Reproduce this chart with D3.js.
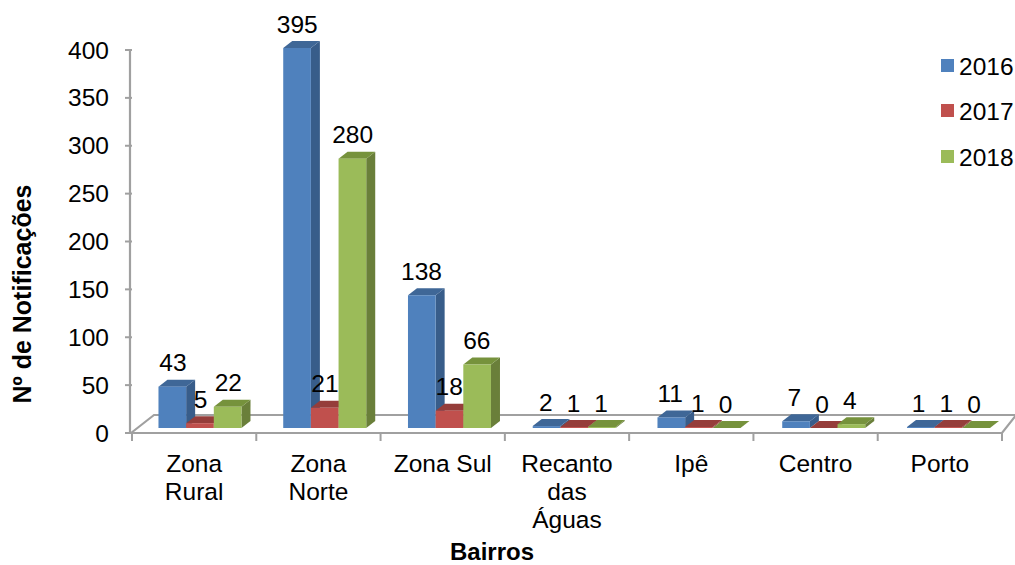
<!DOCTYPE html>
<html>
<head>
<meta charset="utf-8">
<script src="https://cdn.jsdelivr.net/npm/d3@7"></script>
<style>
  html, body { margin: 0; padding: 0; background: #fff; }
  svg { display: block; }
  text { font-family: "Liberation Sans", Arial, sans-serif; fill: #000; }
</style>
</head>
<body>
<div id="chart"></div>
<script>
const categories = [["Zona", "Rural"], ["Zona", "Norte"], ["Zona Sul"], ["Recanto", "das", "Águas"], ["Ipê"], ["Centro"], ["Porto"]];
const seriesNames = ["2016", "2017", "2018"];
const values2016 = [43, 395, 138, 2, 11, 7, 1];
const values2017 = [5, 21, 18, 1, 1, 0, 1];
const values2018 = [22, 280, 66, 1, 0, 4, 0];
const axisTicks = [0, 50, 100, 150, 200, 250, 300, 350, 400];
const faceColors = ["#4f81bd", "#c0504d", "#9bbb59"];
const topColors = ["#3f6797", "#953d3a", "#76923c"];
const sideColors = ["#385d8a", "#8c3836", "#6a7f3a"];

const width = 1015, height = 565;
const depthX = 9, depthY = -7;
const gridColor = "#a0a0a0";
const fontSize = 24.5;

const svg = d3.select("#chart").append("svg").attr("width", width).attr("height", height);
const seriesValues = [values2016, values2017, values2018];
const catIndex = categories.map((_, i) => i);

// The axis sits on the front edge of the floor; bars stand slightly behind it.
const axisX = d3.scaleBand().domain(catIndex).range([132, 1002]);
const axisY = d3.scaleLinear().domain([0, 400]).range([433, 50]);
const barX = d3.scaleBand().domain(catIndex).range([137.6, 1010.85]);
const barInner = d3.scaleBand().domain(d3.range(3)).range([-41.5, 41.5]);
const barY = d3.scaleLinear().domain([0, 400]).range([428, 43.2]);

// Floor of the 3D plot
const floorY = axisY(0), backY = 415;
const grid = svg.append("g").attr("fill", "none").attr("stroke", gridColor).attr("stroke-width", 2.2);
grid.append("path").attr("d", `M${axisX.range()[0]},${floorY}L${axisX.range()[1]},${floorY}L${width + 2},${backY - 1}`);
grid.append("path").attr("d", `M${axisX.range()[0] - 1},${floorY}L154,${backY}L${width},${backY}`);

// Value axis
const yAxis = svg.append("g");
yAxis.append("line").attr("x1", 130).attr("x2", 130)
  .attr("y1", axisY(400)).attr("y2", floorY)
  .attr("stroke", gridColor).attr("stroke-width", 2.2);
const yTicks = yAxis.selectAll("g").data(axisTicks).join("g")
  .attr("transform", d => `translate(0,${axisY(d)})`);
yTicks.append("line").attr("x1", 125).attr("x2", 132)
  .attr("stroke", gridColor).attr("stroke-width", 2);
yTicks.append("text").attr("x", 109).attr("y", 0).attr("dy", "0.35em")
  .attr("text-anchor", "end").attr("font-size", fontSize).text(d => d);

// Category ticks and wrapped labels
const tickPositions = [...catIndex.map(i => axisX(i)), axisX.range()[1]];
svg.append("g").selectAll("line").data(tickPositions).join("line")
  .attr("x1", d => d).attr("x2", d => d).attr("y1", floorY).attr("y2", floorY + 8)
  .attr("stroke", gridColor).attr("stroke-width", 2);
const catLabels = svg.append("g").selectAll("text").data(catIndex).join("text")
  .attr("text-anchor", "middle").attr("font-size", fontSize);
catLabels.selectAll("tspan").data(i => categories[i].map(line => ({ i, line }))).join("tspan")
  .attr("x", d => axisX(d.i) + axisX.bandwidth() / 2)
  .attr("y", (d, k) => 472 + k * 28)
  .text(d => d.line);

// Bars: top, side and front faces
const barsData = seriesValues.flatMap((vals, s) => vals.map((v, c) => {
  const x0 = barX(c) + barX.bandwidth() / 2 + barInner(s);
  return { s, c, v, x0, x1: x0 + barInner.bandwidth(), y0: barY(0), y1: barY(v) };
}));
const bars = svg.append("g").selectAll("g").data(barsData).join("g");
bars.append("path").attr("fill", d => sideColors[d.s])
  .attr("d", d => `M${d.x1},${d.y0}L${d.x1 + depthX},${d.y0 + depthY}L${d.x1 + depthX},${d.y1 + depthY}L${d.x1},${d.y1}Z`);
bars.append("path").attr("fill", d => topColors[d.s])
  .attr("d", d => `M${d.x0},${d.y1}L${d.x0 + depthX},${d.y1 + depthY}L${d.x1 + depthX},${d.y1 + depthY}L${d.x1},${d.y1}Z`);
bars.append("rect").attr("fill", d => faceColors[d.s])
  .attr("x", d => d.x0).attr("y", d => d.y1)
  .attr("width", d => d.x1 - d.x0).attr("height", d => d.y0 - d.y1);

// Value labels follow the axis step, offset towards the back of the plot
svg.append("g").selectAll("text").data(barsData).join("text")
  .attr("x", d => axisX(d.c) + axisX.bandwidth() / 2 + barInner(d.s) + barInner.bandwidth() / 2 + 6.5)
  .attr("y", d => d.y1 - 24).attr("dy", "0.35em")
  .attr("text-anchor", "middle").attr("font-size", fontSize)
  .text(d => d.v);

// Legend
const legend = svg.append("g").selectAll("g").data(seriesNames).join("g")
  .attr("transform", (d, i) => `translate(941,${[59, 104, 150][i]})`);
legend.append("rect").attr("width", 13).attr("height", 13).attr("fill", (d, i) => faceColors[i]);
legend.append("text").attr("x", 18).attr("y", 7).attr("dy", "0.35em")
  .attr("font-size", fontSize).text(d => d);

// Axis titles
svg.append("text").attr("x", 492).attr("y", 560).attr("text-anchor", "middle")
  .attr("font-size", 24).attr("font-weight", "bold").text("Bairros");
svg.append("text").attr("transform", "translate(31,294) rotate(-90)").attr("text-anchor", "middle")
  .attr("font-size", 25).attr("font-weight", "bold").text("Nº de Notificações");
</script>
</body>
</html>
